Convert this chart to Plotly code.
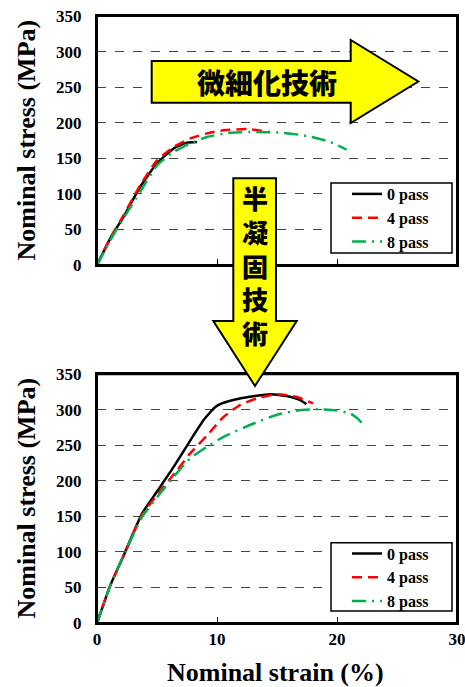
import plotly.graph_objects as go
from plotly.subplots import make_subplots

# ---- data: tensile curves (strain %, stress MPa) ----
series_names = ["0 pass", "4 pass", "8 pass"]

top_strain_0 = [0, 1.11, 2.22, 3.6, 5.0, 6.4, 7.5, 8.33]
top_stress_0 = [0, 37.5, 68, 110, 143, 164, 172, 173]
top_strain_4 = [0, 1.11, 2.22, 3.6, 5.0, 6.4, 7.78, 9.17, 10.55, 12.5, 14.4]
top_stress_4 = [0, 38, 70, 112, 147, 166, 178, 185, 189.5, 191, 187]
top_strain_8 = [0, 1.11, 2.22, 3.6, 5.0, 6.4, 7.78, 9.17, 11.1, 13.3, 15.3, 17.5, 19.4, 20.8]
top_stress_8 = [0, 35, 66, 103, 140, 159, 171, 180, 186, 187, 186, 181.5, 173, 162]

bot_strain_0 = [0, 1.11, 2.22, 3.75, 5.0, 6.4, 7.78, 8.9, 9.86, 10.4, 11.9, 14.44, 16.1, 16.9, 17.45]
bot_stress_0 = [0, 53, 95, 154, 185, 220, 257, 286, 304, 309, 316, 322, 318.5, 314, 308]
bot_strain_4 = [0, 1.11, 2.22, 3.75, 5.0, 6.67, 7.78, 9.17, 10.55, 11.94, 13.33, 15.0, 16.67, 18.0]
bot_stress_4 = [0, 53, 95, 152, 180, 215, 239, 264, 290, 307, 316, 322, 318, 309]
bot_strain_8 = [0, 1.11, 2.22, 3.75, 5.0, 6.4, 7.78, 9.17, 10.55, 12.8, 15.0, 16.67, 18.33, 20.0, 21.1, 21.7, 22.4]
bot_stress_8 = [0, 53, 95, 149, 177, 206, 232, 248, 262, 279, 293, 299, 301, 299, 295, 288, 276]

x_ticks = [0, 10, 20, 30]
y_ticks = [0, 50, 100, 150, 200, 250, 300, 350]

arrow_right_text = "微細化技術"
arrow_down_text = "半凝固技術"
y_title = "Nominal stress (MPa)"
x_title = "Nominal strain (%)"

# ---- styles ----
SERIF = "Liberation Serif"
CJK = "Noto Sans CJK JP"
styles = [
    dict(color="black", width=2.5, dash="solid"),
    dict(color="#FF0000", width=2.5, dash="10px,6px"),
    dict(color="#00B050", width=2.5, dash="14px,6px,2px,6px"),
]

W, H = 465, 687
ML, MR, MT, MB = 97, 8, 16, 64
PW, PH = W - ML - MR, H - MT - MB


def fx(px):
    return (px - ML) / PW


def fy(py):
    return (H - MB - py) / PH


fig = make_subplots(rows=2, cols=1)

top_sets = [(top_strain_0, top_stress_0), (top_strain_4, top_stress_4), (top_strain_8, top_stress_8)]
bot_sets = [(bot_strain_0, bot_stress_0), (bot_strain_4, bot_stress_4), (bot_strain_8, bot_stress_8)]

for i, (xs, ys) in enumerate(top_sets):
    fig.add_trace(go.Scatter(x=xs, y=ys, mode="lines", name=series_names[i],
                             line=dict(**styles[i], shape="spline", smoothing=0.5),
                             legend="legend"), row=1, col=1)
for i, (xs, ys) in enumerate(bot_sets):
    fig.add_trace(go.Scatter(x=xs, y=ys, mode="lines", name=series_names[i],
                             line=dict(**styles[i], shape="spline", smoothing=0.5),
                             legend="legend2"), row=2, col=1)

tickfont = dict(family=SERIF, size=17, color="black", weight="bold")
axis_common = dict(showline=True, linecolor="black", linewidth=2, mirror=True,
                   zeroline=False, automargin=False, ticklabeloverflow="allow")

for r, dom in [(1, [fy(265), 1.0]), (2, [0.0, fy(374.3)])]:
    fig.update_xaxes(row=r, col=1, range=[0, 30], tickvals=x_ticks,
                     ticks="inside", ticklen=6, tickcolor="black", tickwidth=1,
                     showgrid=False, tickfont=tickfont,
                     showticklabels=(r == 2), **axis_common)
    fig.update_yaxes(row=r, col=1, range=[0, 350], tickvals=y_ticks, domain=dom,
                     ticks="", showgrid=True, gridcolor="#444444", gridwidth=1,
                     griddash="dash", tickfont=tickfont, ticklabelstandoff=10,
                     **axis_common)

# frame around each plotting area
for xd, yd in [("x domain", "y domain"), ("x2 domain", "y2 domain")]:
    fig.add_shape(type="rect", xref=xd, yref=yd, x0=0, x1=1, y0=0, y1=1,
                  line=dict(color="black", width=2), fillcolor="rgba(0,0,0,0)",
                  layer="above")

# legend boxes (drawn as frames; the legends sit inside them)
legend_boxes = [(331, 183, 452, 253), (331, 542.7, 452, 611)]
for x0, y0, x1, y1 in legend_boxes:
    fig.add_shape(type="rect", xref="paper", yref="paper",
                  x0=fx(x0), x1=fx(x1), y0=fy(y0), y1=fy(y1),
                  line=dict(color="black", width=1.5), fillcolor="white",
                  layer="above")

legend_common = dict(bgcolor="rgba(0,0,0,0)", borderwidth=0,
                     font=dict(family=SERIF, size=16, color="black", weight="bold"),
                     xanchor="left", yanchor="top", itemwidth=30,
                     indentation=16, tracegroupgap=0)
fig.update_layout(
    width=W, height=H,
    margin=dict(l=ML, r=MR, t=MT, b=MB, autoexpand=False),
    paper_bgcolor="white", plot_bgcolor="white",
    legend=dict(x=fx(331), y=fy(177), **legend_common),
    legend2=dict(x=fx(331), y=fy(536.5), **legend_common),
)

# axis titles
title_font = dict(family=SERIF, size=26, color="black", weight="bold")
for cy in [(16 + 265) / 2, (374.3 + 622.7) / 2]:
    fig.add_annotation(text=y_title, xref="paper", yref="paper",
                       x=fx(26), y=fy(cy), textangle=-90, showarrow=False,
                       font=title_font, xanchor="center", yanchor="middle")
fig.add_annotation(text=x_title, xref="paper", yref="paper",
                   x=fx(275), y=fy(672), showarrow=False, font=title_font,
                   xanchor="center", yanchor="middle")


def path(points):
    s = "M " + " L ".join(f"{fx(a):.5f},{fy(b):.5f}" for a, b in points)
    return s + " Z"


arrow_style = dict(type="path", xref="paper", yref="paper",
                   fillcolor="#FFFF00", line=dict(color="black", width=2),
                   layer="above")
cjk_font = dict(family=CJK, color="black", weight=900)

# horizontal arrow
fig.add_shape(path=path([(151.7, 61), (350.7, 61), (350.7, 40), (418.3, 81.5),
                         (350.7, 123), (350.7, 102.7), (151.7, 102.7)]),
              **arrow_style)
fig.add_annotation(text=arrow_right_text, xref="paper", yref="paper",
                   x=fx(267), y=fy(82), showarrow=False,
                   font=dict(size=28, **cjk_font),
                   xanchor="center", yanchor="middle")

# vertical arrow
fig.add_shape(path=path([(233.3, 178.3), (276, 178.3), (276, 321), (296.7, 321),
                         (255, 386), (213.3, 321), (233.3, 321)]),
              **arrow_style)
fig.add_annotation(text="<br>".join(arrow_down_text), xref="paper", yref="paper",
                   x=fx(255), y=fy(265), showarrow=False,
                   font=dict(size=26, **cjk_font),
                   xanchor="center", yanchor="middle")

fig.write_html("out.html")
